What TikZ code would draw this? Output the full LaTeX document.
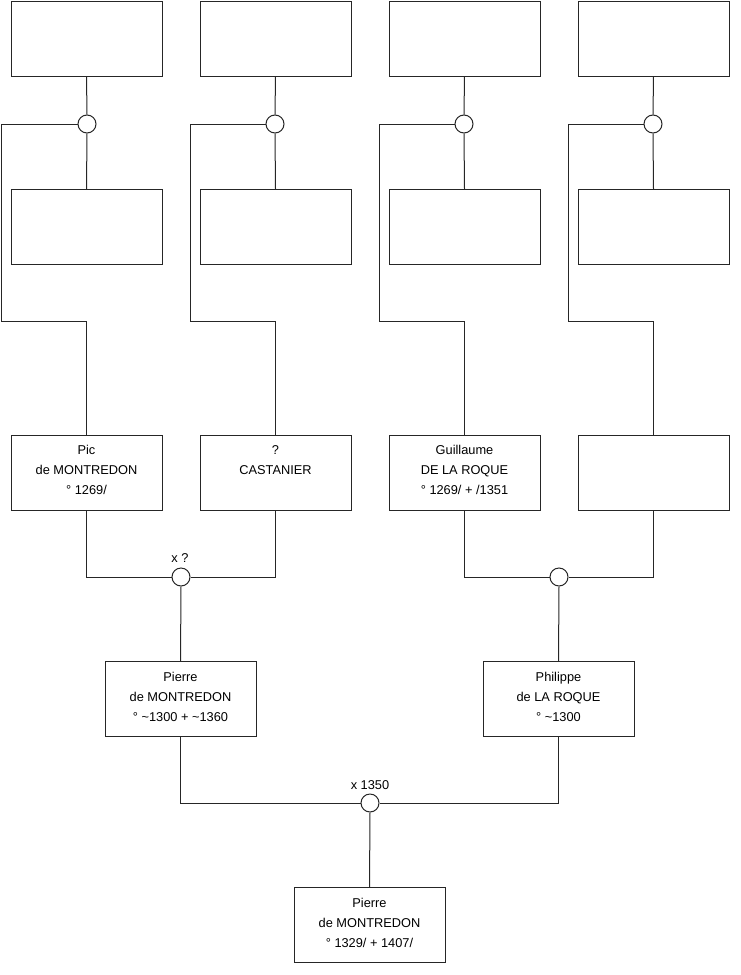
\documentclass[tikz,border=0pt]{standalone}
\usepackage{fontspec}
\setmainfont{Liberation Sans}
\begin{document}
\begin{tikzpicture}[x=0.75pt,y=-0.75pt,
  box/.style={draw=black!85,line width=0.75pt,rectangle,minimum width=113.25pt,minimum height=56.25pt,inner sep=0pt},
  knot/.style={draw=black!85,line width=0.75pt,circle,minimum size=13.5pt,inner sep=0pt,fill=white},
  txt/.style={anchor=base,align=center,font=\fontsize{9.6}{15}\selectfont,inner sep=0pt},
  lbl/.style={font=\fontsize{9.6}{11}\selectfont,inner sep=0pt},
  link/.style={draw=black!85,line width=0.75pt}]
\useasboundingbox (0,0) rectangle (740,975);
% top row
\node[box] (t1) at (86.5,38.5) {};
\node[box] (t2) at (275.5,38.5) {};
\node[box] (t3) at (464.5,38.5) {};
\node[box] (t4) at (653.5,38.5) {};
% second row
\node[box] (m1) at (86.5,227) {};
\node[box] (m2) at (275.5,227) {};
\node[box] (m3) at (464.5,227) {};
\node[box] (m4) at (653.5,227) {};
% third row
\node[box] (g1) at (86.5,472.5) {};
\node[box] (g2) at (275.5,472.5) {};
\node[box] (g3) at (464.5,472.5) {};
\node[box] (g4) at (653.5,472.5) {};
\node[txt] (g1t) at (86.5,494) {Pic\\de MONTREDON\\° 1269/};
\node[txt] (g2t) at (275.5,474) {?\\CASTANIER};
\node[txt] (g3t) at (464.5,494) {Guillaume\\DE LA ROQUE\\° 1269/ + /1351};
% fourth row
\node[box] (p1) at (180.5,699) {};
\node[box] (p2) at (558.5,699) {};
\node[txt] (p1t) at (180.5,721) {Pierre\\de MONTREDON\\° \textasciitilde1300 + \textasciitilde1360};
\node[txt] (p2t) at (558.5,721) {Philippe\\de LA ROQUE\\° \textasciitilde1300};
% bottom
\node[box] (b) at (369.5,925) {};
\node[txt] (bt) at (369.5,947) {Pierre\\de MONTREDON\\° 1329/ + 1407/};
% knots
\node[knot] (k1) at (87,124) {};
\node[knot] (k2) at (275,124) {};
\node[knot] (k3) at (464,124) {};
\node[knot] (k4) at (653,124) {};
\node[knot] (kA) at (181,577) {};
\node[knot] (kB) at (559,577) {};
\node[knot] (kC) at (370,803) {};
\node[lbl] (lA) at (180,558) {x ?};
\node[lbl] (lC) at (370,785) {x 1350};
% corner coordinates
\coordinate (c1) at (1,321);
\coordinate (c2) at (190,321);
\coordinate (c3) at (379,321);
\coordinate (c4) at (568,321);
% top links
\foreach \i in {1,2,3,4}{
  \draw[link] (t\i.south) -- (k\i.north);
  \draw[link] (k\i.south) -- (m\i.north);
  \draw[link] (k\i.west) -| (c\i) -| (g\i.north);
}
% middle links
\draw[link] (g1.south) |- (kA.west);
\draw[link] (g2.south) |- (kA.east);
\draw[link] (kA.south) -- (p1.north);
\draw[link] (g3.south) |- (kB.west);
\draw[link] (g4.south) |- (kB.east);
\draw[link] (kB.south) -- (p2.north);
% bottom links
\draw[link] (p1.south) |- (kC.west);
\draw[link] (p2.south) |- (kC.east);
\draw[link] (kC.south) -- (b.north);
\end{tikzpicture}
\end{document}
